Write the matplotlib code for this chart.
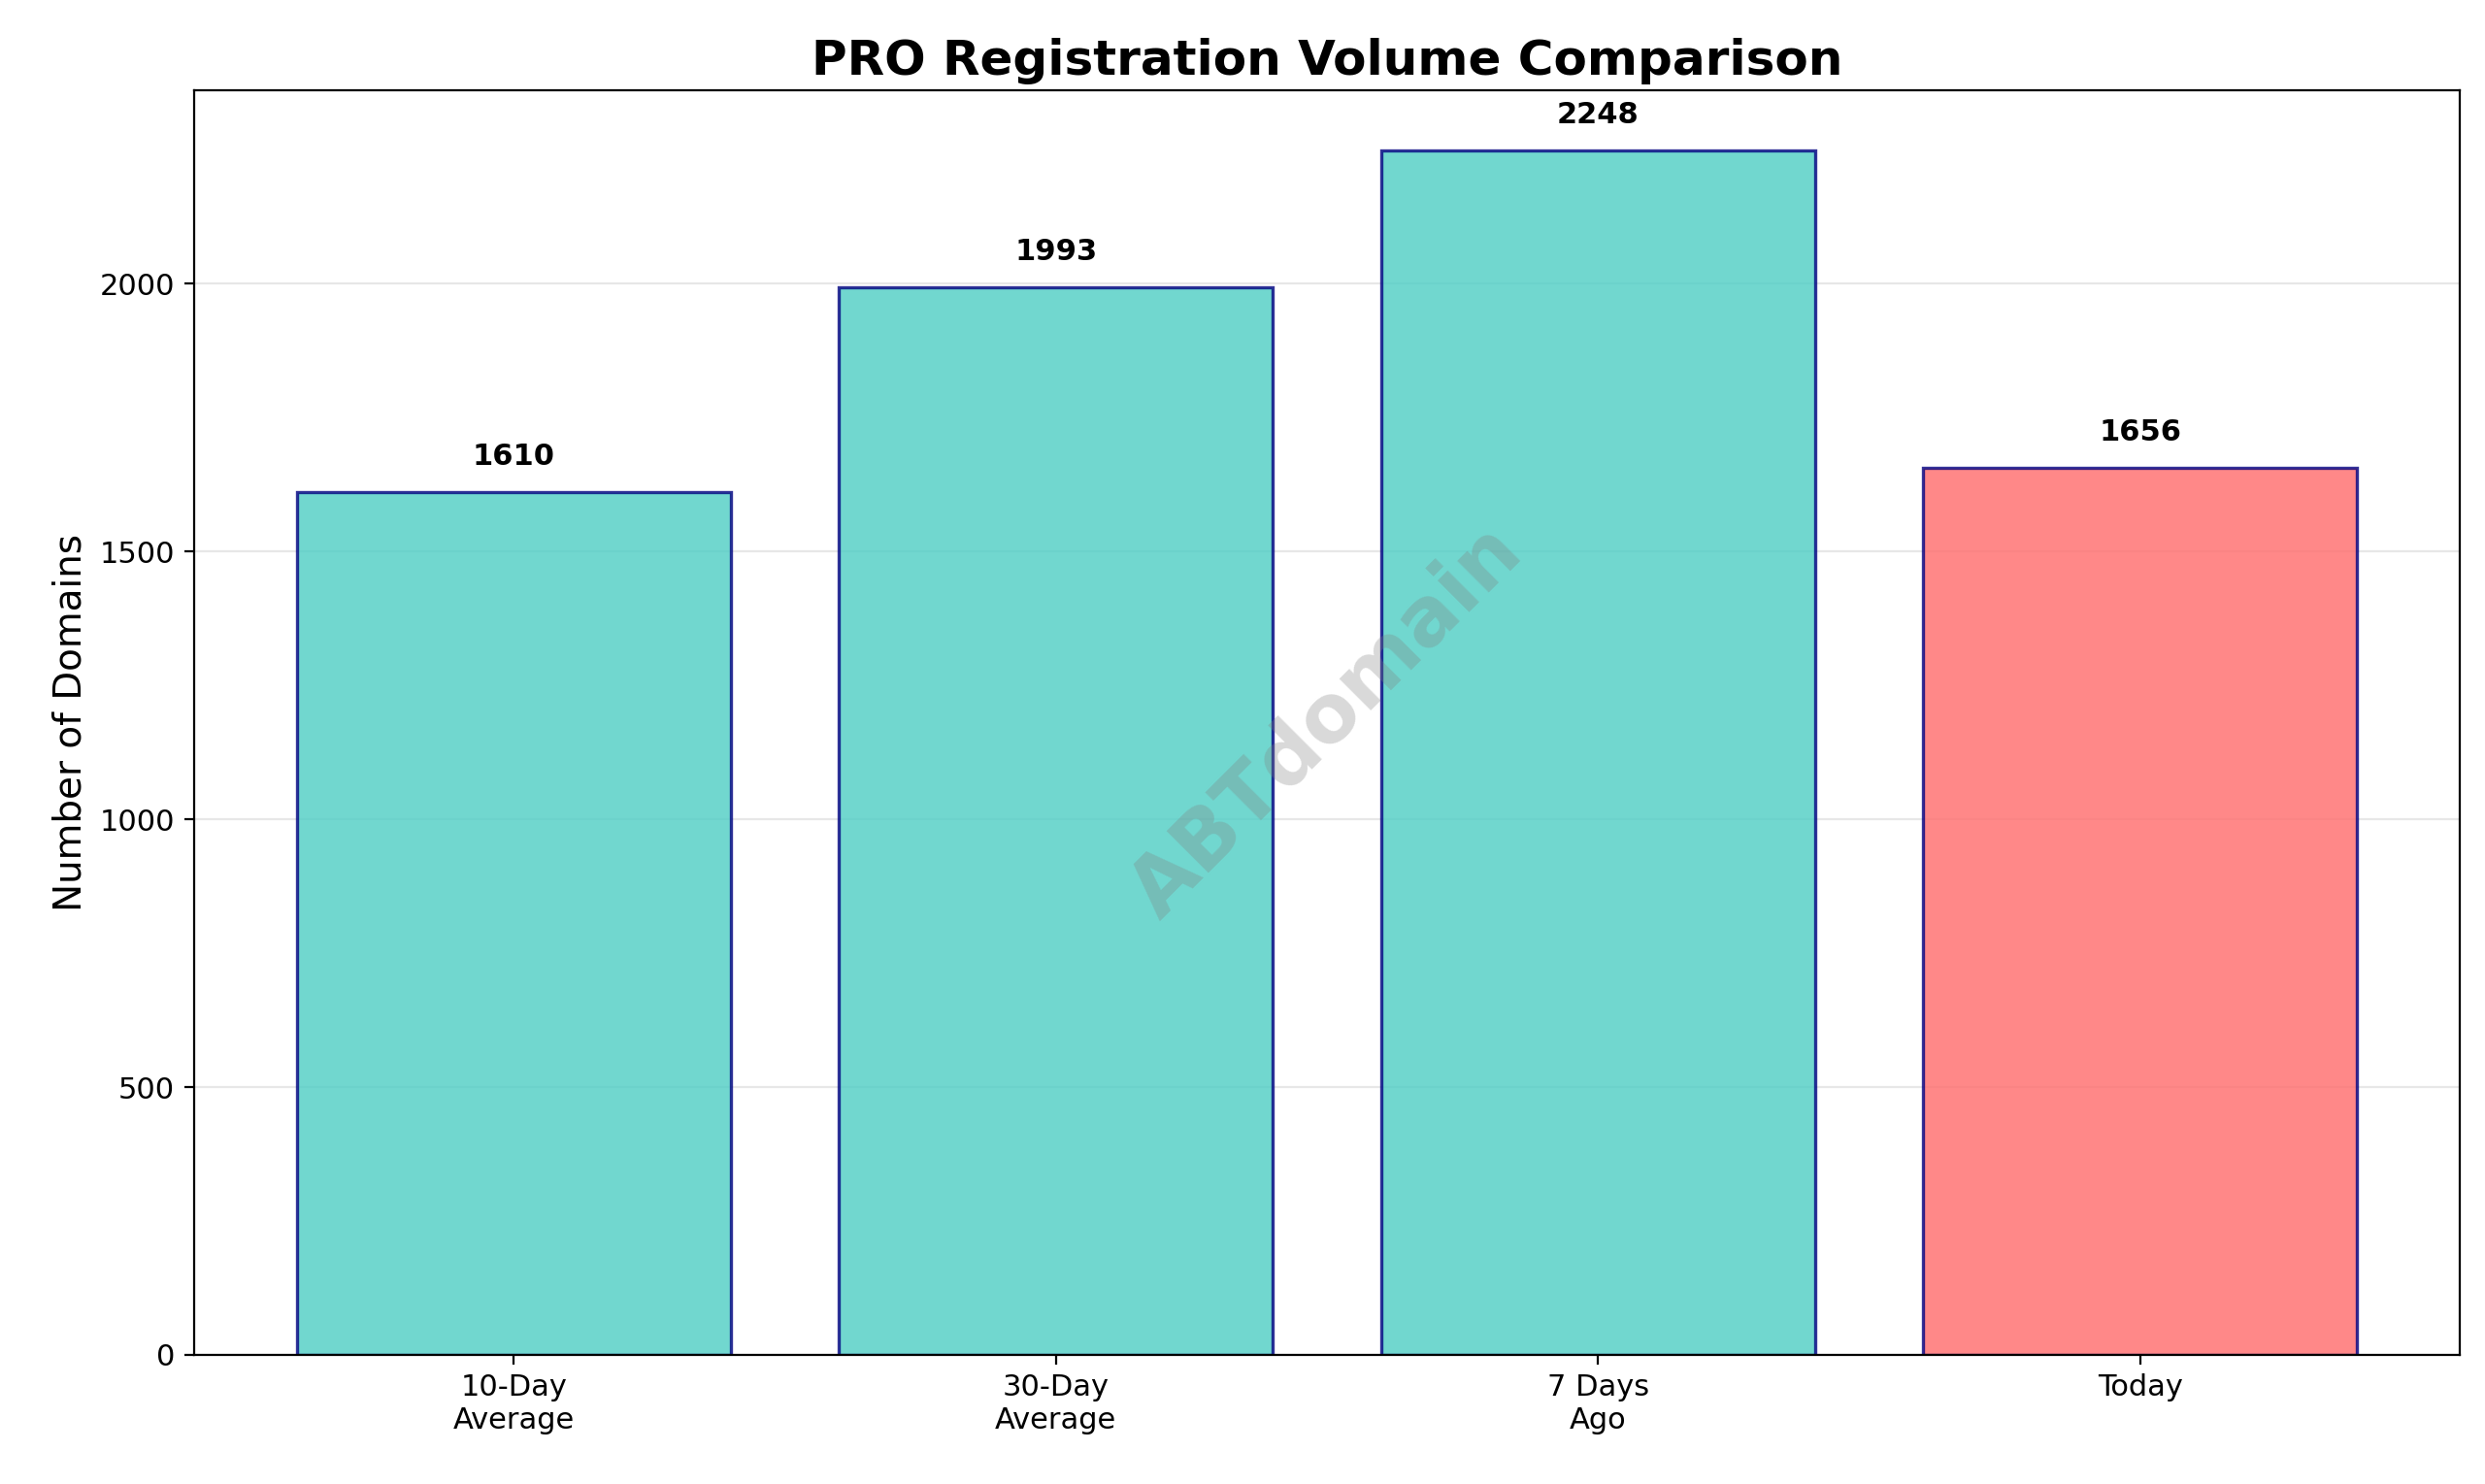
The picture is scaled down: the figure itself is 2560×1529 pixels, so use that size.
import matplotlib
matplotlib.use("Agg")
import matplotlib.pyplot as plt

categories = ["10-Day\nAverage", "30-Day\nAverage", "7 Days\nAgo", "Today"]
values = [1610, 1993, 2248, 1656]
colors = ["#4ECDC4", "#4ECDC4", "#4ECDC4", "#FF6B6B"]

fig, ax = plt.subplots(figsize=(12.8, 7.645), dpi=200)
bars = ax.bar(categories, values, color=colors, alpha=0.8, edgecolor="navy", linewidth=1.2)
for b, v in zip(bars, values):
    ax.text(b.get_x() + b.get_width() / 2, v + 40, f"{v}", ha="center", va="bottom",
            fontweight="bold", fontsize=11)
ax.set_ylim(0, max(values) * 1.05)
ax.set_ylabel("Number of Domains", fontsize=14)
ax.set_title("PRO Registration Volume Comparison", fontsize=18, fontweight="bold")
ax.grid(axis="y", alpha=0.3)
ax.set_axisbelow(True)
ax.tick_params(labelsize=11)
ax.text(0.5, 0.5, "ABTdomain", transform=ax.transAxes, fontsize=30, color="gray",
        alpha=0.3, rotation=45, ha="center", va="center", fontweight="bold")
fig.subplots_adjust(left=0.078, right=0.99, top=0.939, bottom=0.087)
fig.savefig("out.png", dpi=200)
